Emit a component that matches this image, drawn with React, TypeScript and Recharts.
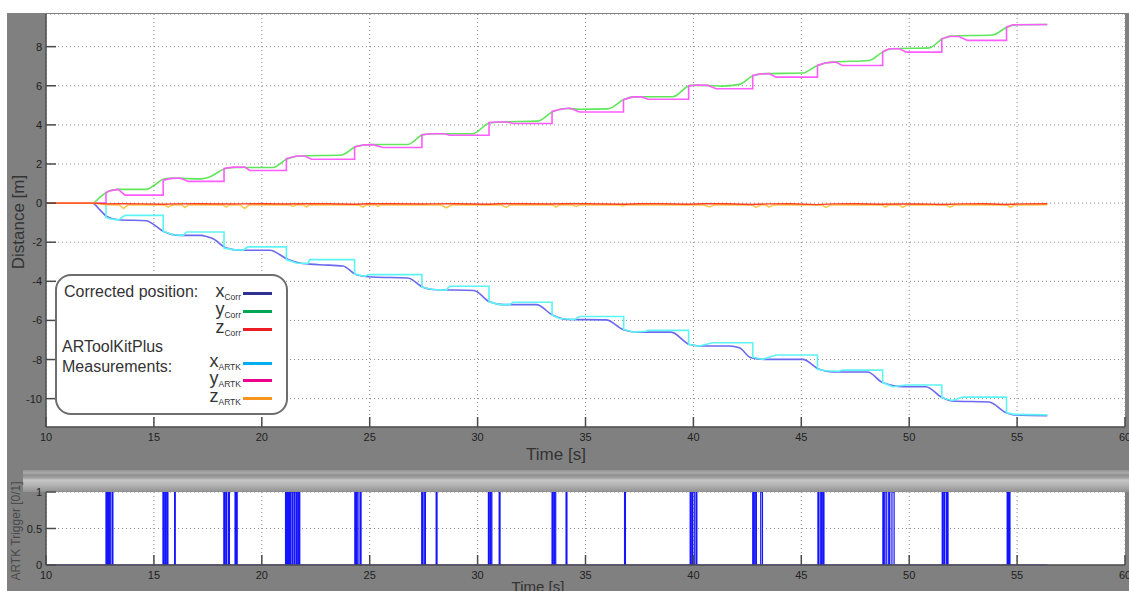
import React from "react";
import { CartesianGrid, Line, LineChart, XAxis, YAxis } from "recharts";

// time axis + distance axis
const timeTicks = [10, 15, 20, 25, 30, 35, 40, 45, 50, 55, 60];
const distTicks = [-10, -8, -6, -4, -2, 0, 2, 4, 6, 8];
const trigTicks = [0, 0.5, 1];
const distDomain: [number, number] = [-11.45, 9.67];

// [t, value]
const xCorr: [number, number][] = [
  [10, 0], [12.16, 0], [12.5, -0.35], [12.81, -0.68], [13.35, -0.85], [14.66, -0.9],
  [15.0, -1.1], [15.43, -1.44], [16.2, -1.65], [17.2, -1.65], [17.4, -1.7], [17.7, -1.8],
  [18.37, -2.3], [18.98, -2.41], [20.37, -2.41], [21.22, -2.89], [21.75, -3.06], [22.68, -3.15],
  [23.76, -3.22], [24.38, -3.66], [25.15, -3.78], [26.77, -3.83], [27.47, -4.3], [27.93, -4.42],
  [29.83, -4.47], [30.55, -5.05], [31.17, -5.19], [32.72, -5.19], [33.48, -5.73], [34.1, -5.95],
  [35.96, -5.97], [36.73, -6.46], [37.35, -6.6], [38.97, -6.6], [39.82, -7.23], [40.45, -7.31],
  [41.67, -7.31], [42.13, -7.4], [42.67, -7.91], [43.3, -7.99], [45.06, -7.99], [45.83, -8.5],
  [46.45, -8.64], [48.07, -8.64], [48.77, -9.18], [49.7, -9.39], [50.77, -9.39], [51.54, -9.95],
  [52.0, -10.12], [53.7, -10.17], [54.48, -10.71], [54.87, -10.83], [56.4, -10.87],
];

const yCorr: [number, number][] = [
  [10, 0], [12.16, 0], [12.5, 0.3], [12.9, 0.6], [13.35, 0.7], [14.66, 0.7], [15.0, 0.9],
  [15.43, 1.22], [15.9, 1.28], [16.6, 1.25], [17.2, 1.24], [17.6, 1.35], [18.37, 1.78],
  [18.8, 1.82], [20.52, 1.82], [21.14, 2.24], [21.75, 2.41], [23.69, 2.46], [24.38, 2.9],
  [25.0, 2.99], [26.77, 3.0], [27.47, 3.5], [27.93, 3.55], [29.78, 3.55], [30.55, 4.1],
  [31.17, 4.15], [32.79, 4.19], [33.48, 4.67], [34.1, 4.84], [34.7, 4.8], [36.03, 4.82],
  [36.8, 5.31], [37.2, 5.43], [39.04, 5.44], [39.88, 6.02], [40.5, 6.02], [41.36, 5.98],
  [42.13, 6.07], [42.74, 6.5], [43.3, 6.62], [45.06, 6.65], [45.75, 7.04], [46.4, 7.21],
  [48.15, 7.29], [48.77, 7.72], [49.2, 7.89], [50.93, 7.94], [51.54, 8.4], [51.9, 8.54],
  [53.86, 8.6], [54.55, 9.0], [54.95, 9.12], [56.4, 9.13],
];

const zCorr: [number, number][] = [
  [10, 0], [12.2, 0], [12.8, -0.04], [13.5, -0.03], [14.5, -0.04], [15.4, -0.06], [16.0, -0.04],
  [17.0, -0.03], [18.2, -0.05], [19.0, -0.04], [20.0, -0.03], [21.1, -0.05], [22.0, -0.03],
  [23.0, -0.03], [24.3, -0.06], [25.0, -0.03], [26.0, -0.03], [27.4, -0.05], [28.0, -0.04],
  [29.0, -0.03], [30.5, -0.06], [31.0, -0.03], [32.0, -0.03], [33.4, -0.05], [34.0, -0.03],
  [35.0, -0.03], [36.8, -0.06], [37.5, -0.03], [38.5, -0.03], [39.8, -0.06], [40.5, -0.03],
  [41.5, -0.03], [42.7, -0.07], [43.5, -0.04], [44.5, -0.03], [45.7, -0.08], [46.5, -0.04],
  [47.5, -0.03], [48.7, -0.06], [49.5, -0.05], [50.5, -0.04], [51.5, -0.07], [52.5, -0.04],
  [53.5, -0.03], [54.5, -0.07], [55.3, -0.04], [56.4, -0.03],
];

const xArtk: [number, number][] = [
  [10, 0], [12.78, 0], [12.78, -0.73], [12.96, -0.8], [13.35, -0.87], [13.66, -0.63], [15.43, -0.63],
  [15.43, -1.44], [15.89, -1.62], [16.35, -1.65], [16.51, -1.48], [18.25, -1.48],
  [18.25, -2.3], [18.67, -2.38], [19.13, -2.41], [19.36, -2.24], [21.14, -2.24],
  [21.14, -2.89], [21.6, -3.06], [22.14, -3.08], [22.22, -2.89], [24.3, -2.89],
  [24.3, -3.62], [24.75, -3.75], [24.95, -3.66], [27.42, -3.66],
  [27.42, -4.3], [27.93, -4.42], [28.55, -4.45], [28.7, -4.25], [30.53, -4.25],
  [30.53, -5.05], [31.02, -5.19], [31.48, -5.19], [31.64, -5.07], [33.45, -5.07],
  [33.45, -5.73], [33.8, -5.9], [34.5, -5.95], [34.72, -5.8], [36.77, -5.8],
  [36.77, -6.46], [37.27, -6.6], [37.8, -6.55], [37.88, -6.51], [39.78, -6.51],
  [39.78, -7.23], [40.27, -7.31], [40.89, -7.14], [42.75, -7.14],
  [42.75, -7.88], [43.21, -7.99], [43.83, -7.77], [45.75, -7.77],
  [45.75, -8.5], [46.14, -8.57], [46.75, -8.6], [46.9, -8.54], [48.77, -8.54],
  [48.77, -9.18], [49.23, -9.39], [49.85, -9.3], [51.51, -9.3],
  [51.51, -9.95], [51.98, -10.09], [52.5, -9.92], [54.51, -9.92],
  [54.51, -10.71], [54.8, -10.8], [56.4, -10.83],
];

const yArtk: [number, number][] = [
  [10, 0], [12.78, 0], [12.78, 0.54], [12.96, 0.63], [13.35, 0.7], [13.66, 0.41], [15.43, 0.41],
  [15.43, 1.17], [15.74, 1.25], [16.2, 1.28], [16.59, 1.11], [18.25, 1.11],
  [18.25, 1.77], [18.67, 1.84], [19.21, 1.84], [19.44, 1.67], [21.14, 1.67],
  [21.14, 2.28], [21.6, 2.41], [21.99, 2.41], [22.3, 2.24], [24.3, 2.24],
  [24.3, 2.87], [24.69, 2.97], [25.15, 2.99], [25.62, 2.84], [27.42, 2.84],
  [27.42, 3.5], [27.93, 3.55], [28.47, 3.55], [28.7, 3.47], [30.53, 3.47],
  [30.53, 4.12], [30.86, 4.15], [31.4, 4.15], [31.64, 4.07], [33.45, 4.07],
  [33.45, 4.69], [33.8, 4.79], [34.27, 4.86], [34.72, 4.66], [36.76, 4.66],
  [36.76, 5.29], [37.2, 5.43], [37.6, 5.43], [37.9, 5.31], [39.78, 5.31],
  [39.78, 5.99], [40.12, 6.04], [40.66, 6.02], [41.05, 5.85], [42.75, 5.85],
  [42.75, 6.53], [43.06, 6.6], [43.5, 6.62], [43.83, 6.44], [45.75, 6.44],
  [45.75, 7.04], [46.14, 7.18], [46.6, 7.21], [46.9, 7.04], [48.77, 7.04],
  [48.77, 7.75], [49.08, 7.89], [49.55, 7.89], [49.86, 7.72], [51.51, 7.72],
  [51.51, 8.4], [51.85, 8.52], [52.3, 8.52], [52.7, 8.32], [54.51, 8.32],
  [54.51, 9.0], [54.8, 9.12], [56.4, 9.13],
];

const zArtk: [number, number][] = [
  [10, 0], [12.2, 0], [12.8, -0.08], [13.4, -0.1], [13.6, -0.27], [13.8, -0.1], [14.5, -0.09],
  [15.5, -0.1], [15.66, -0.2], [15.9, -0.09], [16.3, -0.1], [16.43, -0.22], [16.6, -0.1],
  [17.5, -0.09], [18.2, -0.1], [18.36, -0.2], [18.5, -0.09], [19.0, -0.1], [19.21, -0.27],
  [19.4, -0.1], [20.3, -0.09], [21.3, -0.1], [21.45, -0.17], [21.6, -0.09], [21.95, -0.1],
  [22.07, -0.2], [22.2, -0.09], [23.3, -0.1], [24.5, -0.1], [24.69, -0.2], [24.85, -0.09],
  [25.3, -0.1], [25.38, -0.17], [25.5, -0.09], [26.5, -0.1], [28.3, -0.1], [28.55, -0.24],
  [28.8, -0.1], [29.5, -0.09], [31.1, -0.1], [31.33, -0.22], [31.5, -0.1], [32.5, -0.09],
  [33.5, -0.1], [33.64, -0.2], [33.8, -0.09], [34.4, -0.1], [34.57, -0.17], [34.75, -0.09],
  [35.5, -0.1], [36.6, -0.1], [36.73, -0.15], [36.9, -0.09], [38.0, -0.1], [40.5, -0.1],
  [40.74, -0.2], [40.95, -0.1], [41.8, -0.09], [42.75, -0.1], [42.9, -0.22], [43.1, -0.1],
  [43.35, -0.1], [43.5, -0.2], [43.7, -0.1], [45.0, -0.09], [45.95, -0.1], [46.14, -0.22],
  [46.35, -0.1], [47.5, -0.09], [48.75, -0.1], [48.9, -0.2], [49.05, -0.1], [49.55, -0.1],
  [49.7, -0.22], [49.9, -0.1], [50.8, -0.09], [51.7, -0.1], [51.9, -0.2], [52.1, -0.1],
  [53.2, -0.09], [54.55, -0.1], [54.7, -0.22], [54.85, -0.1], [55.6, -0.09], [56.4, -0.08],
];

// ARTK trigger pulses [on, off]
const triggerPulses: [number, number][] = [
  [12.78, 12.82], [12.86, 12.9], [12.95, 12.98], [13.06, 13.1],
  [15.42, 15.46], [15.52, 15.56], [15.62, 15.65], [15.96, 15.99],
  [18.24, 18.28], [18.34, 18.38], [18.46, 18.5], [18.76, 18.8], [18.84, 18.86],
  [21.1, 21.14], [21.18, 21.22], [21.26, 21.3], [21.33, 21.4], [21.43, 21.5], [21.53, 21.6],
  [21.64, 21.7], [21.73, 21.76],
  [24.31, 24.36], [24.4, 24.46], [24.55, 24.6],
  [27.41, 27.45], [27.52, 27.58], [28.08, 28.12],
  [30.5, 30.54], [30.6, 30.66], [31.0, 31.04],
  [33.45, 33.5], [33.56, 33.62], [34.1, 34.14],
  [36.81, 36.85],
  [39.85, 39.9], [39.96, 40.04], [40.12, 40.16],
  [42.75, 42.8], [42.86, 42.92], [43.12, 43.2],
  [45.77, 45.82], [45.9, 45.94], [46.0, 46.05],
  [48.78, 48.82], [48.88, 48.96], [49.05, 49.1], [49.2, 49.3],
  [51.53, 51.58], [51.64, 51.72], [51.76, 51.8],
  [54.54, 54.58], [54.63, 54.67],
];
const triggerEnd = 56.4;

const rows = (pts: [number, number][]) => pts.map(([t, v]) => ({ t, v }));

const triggerRows = (() => {
  const out = [{ t: 10, v: 0 }];
  for (const [on, off] of triggerPulses) {
    out.push({ t: on, v: 0 }, { t: on, v: 1 }, { t: off, v: 1 }, { t: off, v: 0 });
  }
  out.push({ t: triggerEnd, v: 0 });
  return out;
})();

const series = [
  { name: "yCorr", pts: yCorr, color: "#5fe65a", type: "monotone", w: 1.6 },
  { name: "xCorr", pts: xCorr, color: "#6a6af0", type: "monotone", w: 1.6 },
  { name: "xARTK", pts: xArtk, color: "#5cf4f4", type: "linear", w: 1.6 },
  { name: "yARTK", pts: yArtk, color: "#ff5cff", type: "linear", w: 1.6 },
  { name: "zARTK", pts: zArtk, color: "#ffc850", type: "linear", w: 1.6 },
  { name: "zCorr", pts: zCorr, color: "#ff3d1f", type: "linear", w: 1.4 },
];

const legendItems = [
  { main: "x", sub: "Corr", color: "#2e3192", y: 293 },
  { main: "y", sub: "Corr", color: "#00a651", y: 311 },
  { main: "z", sub: "Corr", color: "#ed1c24", y: 329 },
  { main: "x", sub: "ARTK", color: "#00aeef", y: 363 },
  { main: "y", sub: "ARTK", color: "#ec008c", y: 380 },
  { main: "z", sub: "ARTK", color: "#f7941d", y: 398 },
];

const FONT = "'Liberation Sans', Arial, Helvetica, sans-serif";
const TICK = "#4a4a4a";

const BottomTick = ({ x, y, payload }: any) => (
  <g>
    <line x1={x} y1={y - 4} x2={x} y2={y - 14} stroke={TICK} strokeWidth={1.5} />
    <text x={x} y={y + 10} textAnchor="middle" fontSize={11} fill="#222" fontFamily={FONT}>
      {payload.value}
    </text>
  </g>
);

const TopTick = ({ x, y }: any) => (
  <line x1={x} y1={y} x2={x} y2={y + 10} stroke={TICK} strokeWidth={1.5} />
);

const LeftTick = ({ x, y, payload }: any) => (
  <g>
    <line x1={x + 4} y1={y} x2={x + 14} y2={y} stroke={TICK} strokeWidth={1.5} />
    <text x={x} y={y + 4} textAnchor="end" fontSize={11} fill="#222" fontFamily={FONT}>
      {payload.value}
    </text>
  </g>
);

const RightTick = ({ x, y }: any) => (
  <line x1={x} y1={y} x2={x - 10} y2={y} stroke={TICK} strokeWidth={1.5} />
);

const frame = { stroke: "#4d4d4d", strokeWidth: 1.5 };

export default function App() {
  return (
    <div
      style={{
        position: "absolute",
        left: 0,
        top: 0,
        width: 1129,
        height: 591,
        background: "#fff",
        overflow: "hidden",
        fontFamily: FONT,
      }}
    >
      <div style={{ position: "absolute", left: 7, top: 13, right: 0, bottom: 0, background: "#808080" }} />
      {/* divider between the two axes */}
      <div
        style={{
          position: "absolute",
          left: 23,
          top: 470,
          right: 0,
          height: 22,
          background:
            "linear-gradient(#939393 0px, #ababab 3px, #8e8e8e 5px, #a2a2a2 8px, #c6c6c6 10px, #b4b4b4 15px, #909090 22px)",
        }}
      />

      <div style={{ position: "absolute", left: 0, top: 0 }}>
        <LineChart width={1129} height={470} margin={{ top: 14, right: 4, bottom: 0, left: 0 }}>
          <CartesianGrid
            xAxisId="b"
            yAxisId="l"
            fill="#fff"
            stroke="#8c8c8c"
            strokeDasharray="1 3"
          />
          <XAxis
            xAxisId="b"
            dataKey="t"
            type="number"
            domain={[10, 60]}
            ticks={timeTicks}
            interval={0}
            height={43}
            tickSize={0}
            tickMargin={4}
            tick={(p: any) => <BottomTick {...p} />}
            axisLine={frame}
            allowDataOverflow
          />
          <XAxis
            xAxisId="t"
            orientation="top"
            type="number"
            domain={[10, 60]}
            ticks={timeTicks}
            interval={0}
            height={0}
            tickSize={0}
            tickMargin={0}
            tick={(p: any) => <TopTick {...p} />}
            axisLine={frame}
            allowDataOverflow
          />
          <YAxis
            yAxisId="l"
            type="number"
            domain={distDomain}
            ticks={distTicks}
            interval={0}
            width={46}
            tickSize={0}
            tickMargin={4}
            tick={(p: any) => <LeftTick {...p} />}
            axisLine={frame}
            allowDataOverflow
          />
          <YAxis
            yAxisId="r"
            orientation="right"
            type="number"
            domain={distDomain}
            ticks={distTicks}
            interval={0}
            width={0}
            tickSize={0}
            tickMargin={0}
            tick={(p: any) => <RightTick {...p} />}
            axisLine={frame}
            allowDataOverflow
          />
          {series.map((s) => (
            <Line
              key={s.name}
              xAxisId="b"
              yAxisId="l"
              data={rows(s.pts)}
              dataKey="v"
              type={s.type as any}
              stroke={s.color}
              strokeWidth={s.w}
              dot={false}
              activeDot={false}
              isAnimationActive={false}
            />
          ))}
        </LineChart>
      </div>

      <div style={{ position: "absolute", left: 0, top: 470 }}>
        <LineChart width={1129} height={121} margin={{ top: 22, right: 4, bottom: 0, left: 0 }}>
          <CartesianGrid
            xAxisId="b"
            yAxisId="l"
            fill="#fff"
            stroke="#8c8c8c"
            strokeDasharray="1 3"
          />
          <XAxis
            xAxisId="b"
            dataKey="t"
            type="number"
            domain={[10, 60]}
            ticks={timeTicks}
            interval={0}
            height={26}
            tickSize={0}
            tickMargin={4}
            tick={(p: any) => <BottomTick {...p} />}
            axisLine={frame}
            allowDataOverflow
          />
          <XAxis
            xAxisId="t"
            orientation="top"
            type="number"
            domain={[10, 60]}
            ticks={timeTicks}
            interval={0}
            height={0}
            tickSize={0}
            tickMargin={0}
            tick={(p: any) => <TopTick {...p} />}
            axisLine={frame}
            allowDataOverflow
          />
          <YAxis
            yAxisId="l"
            type="number"
            domain={[0, 1]}
            ticks={trigTicks}
            interval={0}
            width={46}
            tickSize={0}
            tickMargin={4}
            tick={(p: any) => <LeftTick {...p} />}
            axisLine={frame}
            allowDataOverflow
          />
          <YAxis
            yAxisId="r"
            orientation="right"
            type="number"
            domain={[0, 1]}
            ticks={trigTicks}
            interval={0}
            width={0}
            tickSize={0}
            tickMargin={0}
            tick={(p: any) => <RightTick {...p} />}
            axisLine={frame}
            allowDataOverflow
          />
          <Line
            xAxisId="b"
            yAxisId="l"
            data={triggerRows}
            dataKey="v"
            type="linear"
            stroke="#1414ff"
            strokeWidth={1.2}
            dot={false}
            activeDot={false}
            isAnimationActive={false}
          />
        </LineChart>
      </div>

      {/* axis titles */}
      <div
        style={{
          position: "absolute",
          left: 19,
          top: 222,
          transform: "translate(-50%, -50%) rotate(-90deg)",
          fontSize: 17,
          color: "#333",
          whiteSpace: "nowrap",
        }}
      >
        Distance [m]
      </div>
      <div
        style={{
          position: "absolute",
          left: 556,
          top: 455,
          transform: "translate(-50%, -50%)",
          fontSize: 17,
          color: "#333",
          whiteSpace: "nowrap",
        }}
      >
        Time [s]
      </div>
      <div
        style={{
          position: "absolute",
          left: 16,
          top: 531,
          transform: "translate(-50%, -50%) rotate(-90deg)",
          fontSize: 12,
          color: "#4a4a4a",
          whiteSpace: "nowrap",
        }}
      >
        ARTK Trigger [0/1]
      </div>
      <div
        style={{
          position: "absolute",
          left: 538,
          top: 578,
          transform: "translateX(-50%)",
          fontSize: 15,
          color: "#333",
          whiteSpace: "nowrap",
          lineHeight: "18px",
        }}
      >
        Time [s]
      </div>

      {/* legend */}
      <div
        style={{
          position: "absolute",
          left: 55,
          top: 274,
          width: 229,
          height: 137,
          border: "2px solid #6e6e6e",
          borderRadius: 16,
          background: "#fff",
        }}
      />
      <div style={{ position: "absolute", left: 64, top: 282, fontSize: 16, color: "#333", lineHeight: "20px" }}>
        Corrected position:
      </div>
      <div style={{ position: "absolute", left: 62, top: 337, fontSize: 16, color: "#333", lineHeight: "19.5px" }}>
        ARToolKitPlus
        <br />
        Measurements:
      </div>
      {legendItems.map((it) => (
        <React.Fragment key={it.main + it.sub}>
          <div
            style={{
              position: "absolute",
              left: 200,
              width: 41,
              top: it.y - 10,
              height: 16,
              textAlign: "right",
              color: "#333",
              lineHeight: "16px",
              whiteSpace: "nowrap",
            }}
          >
            <span style={{ fontSize: 18 }}>{it.main}</span>
            <span style={{ fontSize: 8.5, position: "relative", top: 3 }}>{it.sub}</span>
          </div>
          <div
            style={{
              position: "absolute",
              left: 243,
              top: it.y - 1.5,
              width: 29,
              height: 3,
              background: it.color,
            }}
          />
        </React.Fragment>
      ))}
    </div>
  );
}
